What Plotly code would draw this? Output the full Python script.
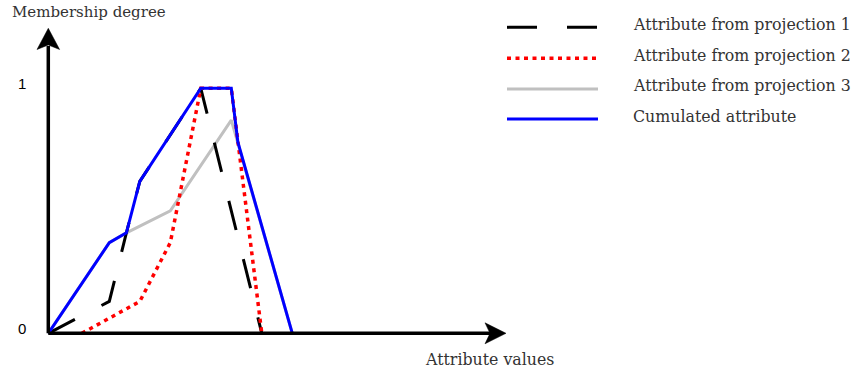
import plotly.graph_objects as go

# ---------------- data ----------------
proj1_x = [0, 2.5, 3.2, 3.75, 6.25, 8.75]
proj1_y = [0, 0.13, 0.41, 0.62, 1.0, 0]
proj2_x = [1.375, 3.75, 5.0, 6.25, 7.5, 8.75]
proj2_y = [0, 0.13, 0.37, 1.0, 1.0, 0]
proj3_x = [0, 2.5, 3.2, 5.0, 7.5, 10.0]
proj3_y = [0, 0.37, 0.41, 0.5, 0.87, 0]
cum_x = [0, 2.5, 3.2, 3.75, 6.25, 7.5, 7.77, 10.0]
cum_y = [0, 0.37, 0.41, 0.62, 1.0, 1.0, 0.78, 0]

series_names = ["Attribute from projection 1", "Attribute from projection 2",
                "Attribute from projection 3", "Cumulated attribute"]
y_tick_vals = [0, 1]
y_tick_text = ["0", "1"]
y_title = "Membership degree"
x_title = "Attribute values"

# ---------------- geometry ----------------
W, H = 854, 372
OX, OY = 48.3, 333.3          # origin in pixels
UX, UY = 24.4, 245.0          # pixels per data unit
x_range = [-OX / UX, (W - OX) / UX]
y_range = [(OY - H) / UY, OY / UY]


def dx(p):  # pixel -> data x
    return (p - OX) / UX


def dy(p):  # pixel -> data y
    return (OY - p) / UY


def pxp(p):  # pixel -> paper x
    return p / W


def pyp(p):  # pixel -> paper y
    return 1 - p / H


styles = [
    dict(color="black", width=3, dash="30px,30px"),
    dict(color="#ff0000", width=3.5, dash="4px,4.5px"),
    dict(color="#c0c0c0", width=3, dash="solid"),
    dict(color="#0000ff", width=3, dash="solid"),
]

fig = go.Figure()
# draw order: gray, black, red, blue
order = [2, 0, 1, 3]
data = [(proj1_x, proj1_y), (proj2_x, proj2_y), (proj3_x, proj3_y), (cum_x, cum_y)]
for i in order:
    xs, ys = data[i]
    fig.add_trace(go.Scatter(x=xs, y=ys, mode="lines", name=series_names[i],
                             line=styles[i], showlegend=False, hoverinfo="skip"))

shapes = []
# axes lines
shapes.append(dict(type="line", xref="x", yref="y", x0=0, y0=0, x1=dx(490), y1=0,
                   line=dict(color="black", width=3.5)))
shapes.append(dict(type="line", xref="x", yref="y", x0=0, y0=0, x1=0, y1=dy(46),
                   line=dict(color="black", width=3.5)))
# arrow heads (stealth-like)
xa = "M {},{} L {},{} L {},{} L {},{} Z".format(
    dx(506), dy(OY), dx(485), dy(OY - 10.5), dx(490), dy(OY), dx(485), dy(OY + 10.5))
ya = "M {},{} L {},{} L {},{} L {},{} Z".format(
    dx(OX), dy(28.3), dx(OX - 11.3), dy(49.5), dx(OX), dy(45), dx(OX + 11.3), dy(49.5))
for p in (xa, ya):
    shapes.append(dict(type="path", xref="x", yref="y", path=p,
                       fillcolor="black", line=dict(color="black", width=0.5)))

# legend swatches
leg_y = [27.3, 58.3, 89, 119]
for i in range(4):
    shapes.append(dict(type="line", xref="paper", yref="paper",
                       x0=pxp(507), x1=pxp(598), y0=pyp(leg_y[i]), y1=pyp(leg_y[i]),
                       line=styles[i]))

leg_font = dict(family="DejaVu Serif", size=15.8, color="#333333")
title_font = dict(family="DejaVu Serif", size=15.0, color="#333333")
annotations = []
leg_text_y = [24.5, 55.5, 85.5, 117]
for i in range(4):
    annotations.append(dict(text=series_names[i], xref="paper", yref="paper",
                            x=pxp(631), y=pyp(leg_text_y[i]), xanchor="left",
                            yanchor="middle", showarrow=False, font=leg_font))
annotations.append(dict(text=y_title, xref="paper", yref="paper", x=pxp(10), y=pyp(12.5),
                        xanchor="left", yanchor="middle", showarrow=False, font=title_font))
annotations.append(dict(text=x_title, xref="paper", yref="paper", x=pxp(489.5), y=pyp(359),
                        xanchor="center", yanchor="middle", showarrow=False, font=leg_font))

fig.update_layout(
    width=W, height=H, margin=dict(l=0, r=0, t=0, b=0),
    paper_bgcolor="white", plot_bgcolor="white", showlegend=False,
    xaxis=dict(range=x_range, domain=[0, 1], showgrid=False, zeroline=False,
               showline=False, showticklabels=False, ticks=""),
    yaxis=dict(range=y_range, domain=[0, 1], showgrid=False, zeroline=False,
               showline=False, anchor="free", position=pxp(OX),
               tickvals=y_tick_vals, ticktext=y_tick_text, ticks="",
               ticklabelstandoff=22, ticklabelshift=-5,
               tickfont=dict(family="Liberation Sans", size=15, color="black")),
    shapes=shapes, annotations=annotations,
)

fig.write_html("out.html", config={"displayModeBar": False},
               post_script="document.body.style.margin='0';")
